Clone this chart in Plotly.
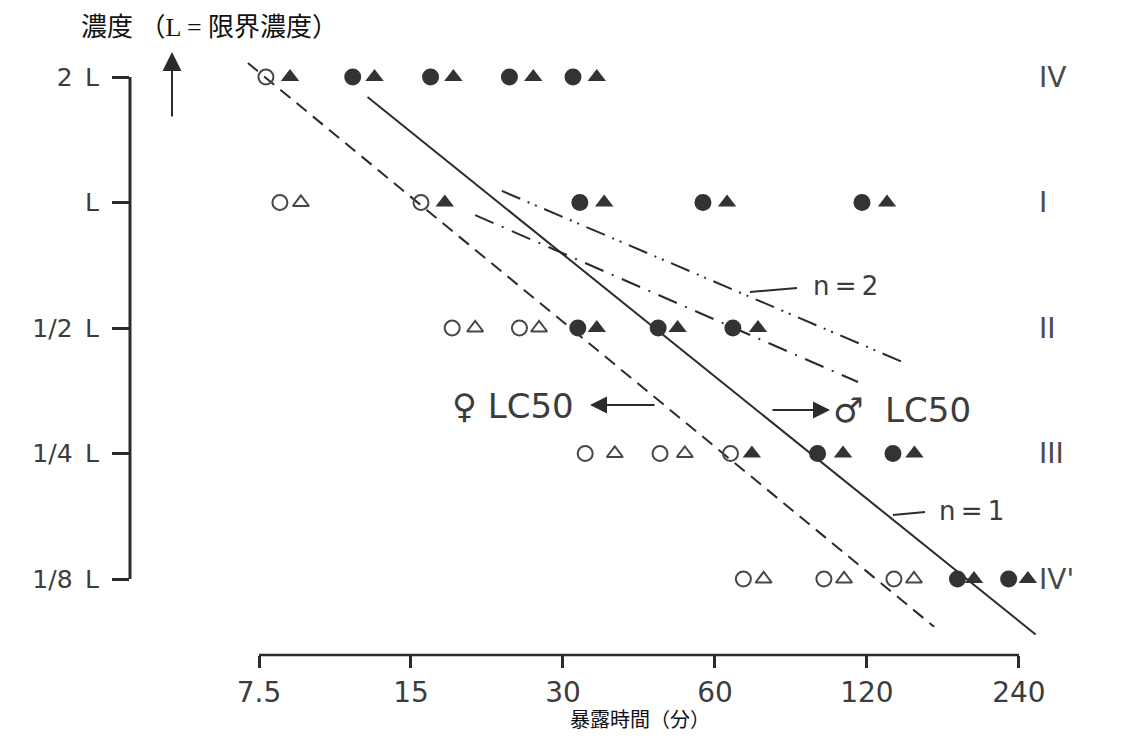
import numpy as np
import plotly.graph_objects as go

# ---------------- data ----------------
conc_levels = [2, 1, 0.5, 0.25, 0.125]
conc_labels = ["2\u2002L", "L", "1/2\u2002L", "1/4\u2002L", "1/8\u2002L"]
row_labels = ["IV", "I", "II", "III", "IV'"]
time_ticks = [7.5, 15, 30, 60, 120, 240]
time_tick_labels = ["7.5", "15", "30", "60", "120", "240"]

# female (circle) exposure times per concentration row and death flags
female_t = [
    [7.74, 11.5, 16.4, 23.5, 31.4],
    [8.25, 15.7, 32.4, 56.8, 117.3],
    [18.1, 24.6, 32.1, 46.3, 65.1],
    [33.2, 46.7, 64.4, 95.8, 135.1],
    [68.3, 98.6, 135.7, 181.3, 229.0],
]
female_dead = [
    [0, 1, 1, 1, 1],
    [0, 0, 1, 1, 1],
    [0, 0, 1, 1, 1],
    [0, 0, 0, 1, 1],
    [0, 0, 0, 1, 1],
]
# male (triangle) exposure times and death flags
male_t = [
    [8.64, 12.7, 18.2, 26.2, 35.0],
    [9.08, 17.5, 36.2, 63.4, 131.5],
    [20.1, 26.9, 35.0, 50.6, 73.0],
    [38.0, 52.3, 71.0, 107.6, 149.0],
    [74.9, 108.1, 148.7, 195.5, 250.0],
]
male_dead = [
    [1, 1, 1, 1, 1],
    [0, 1, 1, 1, 1],
    [0, 0, 1, 1, 1],
    [0, 0, 1, 1, 1],
    [0, 0, 0, 1, 1],
]

# fitted lines (time, concentration end points)
female_lc50_t = [7.13, 163.0]
female_lc50_c = [2.16, 0.096]
male_lc50_t = [12.3, 259.0]
male_lc50_c = [1.79, 0.092]
dashdot_t = [20.1, 115.2]
dashdot_c = [0.933, 0.371]
n2_t = [22.7, 141.4]
n2_c = [1.066, 0.414]

# ---------------- figure ----------------
INK = "#2b2b2b"
TXT = "#3c3c3c"
FONT = "DejaVu Sans, Liberation Sans, sans-serif"


def px_x(p):  # page pixel -> paper x
    return (p - 130) / 950.0


def px_y(p):  # page pixel -> paper y
    return (655 - p) / 615.0


fig = go.Figure()

# lines
fig.add_trace(go.Scatter(x=female_lc50_t, y=female_lc50_c, mode="lines",
                         line=dict(color=INK, width=2, dash="13px,8px"), hoverinfo="skip"))
fig.add_trace(go.Scatter(x=male_lc50_t, y=male_lc50_c, mode="lines",
                         line=dict(color=INK, width=2), hoverinfo="skip"))
fig.add_trace(go.Scatter(x=dashdot_t, y=dashdot_c, mode="lines",
                         line=dict(color=INK, width=2, dash="20px,9px,2px,9px"), hoverinfo="skip"))
fig.add_trace(go.Scatter(x=n2_t, y=n2_c, mode="lines",
                         line=dict(color=INK, width=2, dash="20px,8px,2px,6px,2px,8px"), hoverinfo="skip"))


def collect(times, flags, want):
    xs, ys = [], []
    for row, c in enumerate(conc_levels):
        for t, f in zip(times[row], flags[row]):
            if f == want:
                xs.append(t)
                ys.append(c)
    return xs, ys


fx0, fy0 = collect(female_t, female_dead, 0)
fx1, fy1 = collect(female_t, female_dead, 1)
mx0, my0 = collect(male_t, male_dead, 0)
mx1, my1 = collect(male_t, male_dead, 1)

fig.add_trace(go.Scatter(x=fx0, y=fy0, mode="markers", cliponaxis=False,
                         marker=dict(symbol="circle-open", size=15, color="#474747", line=dict(width=2))))
fig.add_trace(go.Scatter(x=fx1, y=fy1, mode="markers", cliponaxis=False,
                         marker=dict(symbol="circle", size=17, color="#333", line=dict(width=0))))
fig.add_trace(go.Scatter(x=mx0, y=my0, mode="markers", cliponaxis=False,
                         marker=dict(symbol="triangle-up-open", size=14, color="#474747", line=dict(width=2))))
fig.add_trace(go.Scatter(x=mx1, y=my1, mode="markers", cliponaxis=False,
                         marker=dict(symbol="triangle-up", size=16, color="#333", line=dict(width=0))))

# axis lines (only over the labelled span)
fig.add_shape(type="line", xref="x", yref="paper", x0=time_ticks[0], x1=time_ticks[-1], y0=0, y1=0,
              line=dict(color=INK, width=2.5))
fig.add_shape(type="line", xref="paper", yref="y", x0=0, x1=0, y0=conc_levels[-1], y1=conc_levels[0],
              line=dict(color=INK, width=3))

ann = []
# row labels on the right
for c, lab in zip(conc_levels, row_labels):
    ann.append(dict(x=px_x(1037), xref="paper", y=np.log10(c), yref="y", text=lab, showarrow=False,
                    xanchor="left", yanchor="middle", font=dict(family=FONT, size=28, color="#4a4a4a")))

# axis titles
ann.append(dict(x=px_x(79), y=px_y(28), xref="paper", yref="paper", text="濃度 （L = 限界濃度）",
                showarrow=False, xanchor="left", yanchor="middle",
                font=dict(family="Liberation Serif, Noto Sans CJK JP", size=26, color="#111")))
ann.append(dict(x=px_x(640), y=px_y(718), xref="paper", yref="paper", text="暴露時間（分）",
                showarrow=False, xanchor="center", yanchor="middle",
                font=dict(family="Noto Sans CJK JP", size=20, color="#111")))
# upward arrow
ann.append(dict(x=px_x(172), y=px_y(52), xref="paper", yref="paper", ax=0, ay=66, text="",
                showarrow=True, arrowhead=2, arrowsize=1.9, arrowwidth=2, arrowcolor=INK))
# LC50 arrows and labels
ann.append(dict(x=px_x(590), y=px_y(405), xref="paper", yref="paper", ax=66, ay=0, text="",
                showarrow=True, arrowhead=2, arrowsize=1.7, arrowwidth=2, arrowcolor=INK))
ann.append(dict(x=px_x(576), y=px_y(406), xref="paper", yref="paper", text="♀ LC50", showarrow=False,
                xanchor="right", yanchor="middle", font=dict(family=FONT, size=34, color=TXT)))
ann.append(dict(x=px_x(830), y=px_y(410), xref="paper", yref="paper", ax=-59, ay=0, text="",
                showarrow=True, arrowhead=2, arrowsize=1.7, arrowwidth=2, arrowcolor=INK))
ann.append(dict(x=px_x(831), y=px_y(410), xref="paper", yref="paper", text="♂\u00a0 LC50", showarrow=False,
                xanchor="left", yanchor="middle", font=dict(family=FONT, size=34, color=TXT)))
# n labels
ann.append(dict(x=px_x(811), y=px_y(286), xref="paper", yref="paper", text="n\u2009=\u20092", showarrow=False,
                xanchor="left", yanchor="middle", font=dict(family=FONT, size=26, color=TXT)))
ann.append(dict(x=px_x(937), y=px_y(511), xref="paper", yref="paper", text="n\u2009=\u20091", showarrow=False,
                xanchor="left", yanchor="middle", font=dict(family=FONT, size=26, color=TXT)))
fig.add_shape(type="line", xref="paper", yref="paper", x0=px_x(750), y0=px_y(292), x1=px_x(797), y1=px_y(288),
              line=dict(color=INK, width=2))
fig.add_shape(type="line", xref="paper", yref="paper", x0=px_x(893), y0=px_y(515), x1=px_x(925), y1=px_y(512),
              line=dict(color=INK, width=2))

fig.update_layout(
    width=1106, height=731,
    margin=dict(l=122, r=34, t=32, b=84),
    plot_bgcolor="white", paper_bgcolor="white",
    showlegend=False,
    annotations=ann,
    xaxis=dict(type="log", range=[0.61956, 2.50113], tickvals=time_ticks, ticktext=time_tick_labels,
               ticks="outside", ticklen=12, tickwidth=2.5, tickcolor=INK, showline=False,
               showgrid=False, zeroline=False, tickfont=dict(family=FONT, size=28, color=TXT)),
    yaxis=dict(type="log", range=[-1.08539, 0.38978], tickvals=conc_levels, ticktext=conc_labels,
               ticks="outside", ticklen=17, tickwidth=2.5, tickcolor=INK, showline=False,
               ticklabelstandoff=8,
               showgrid=False, zeroline=False, tickfont=dict(family=FONT, size=25, color=TXT)),
)

fig.write_html("out.html", config={"displayModeBar": False})
